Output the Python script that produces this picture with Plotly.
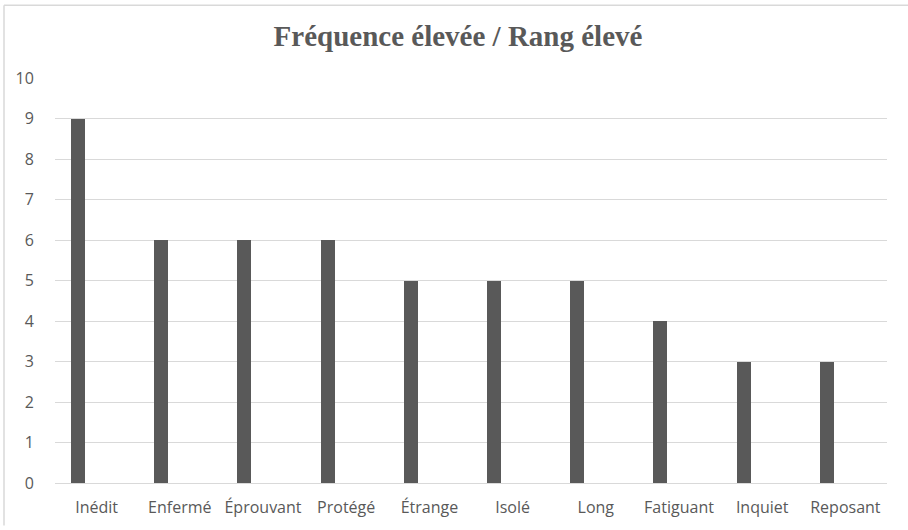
import plotly.graph_objects as go

categories = ["Inédit", "Enfermé", "Éprouvant", "Protégé", "Étrange", "Isolé", "Long", "Fatiguant", "Inquiet", "Reposant"]
values = [9, 6, 6, 6, 5, 5, 5, 4, 3, 3]
y_ticks = list(range(0, 11))

W, H = 908, 530
L, R, T, B = 55, 21, 78, 43
PW, PH = W - L - R, H - T - B

fig = go.Figure()
fig.add_trace(go.Bar(
    x=categories, y=values,
    marker=dict(color="#595959", line=dict(width=0)),
    width=0.168, offset=-0.308,
    showlegend=False,
))

bx = (4 - L) / PW
by = 1 + (T - 4.5) / PH
fig.update_layout(
    width=W, height=H,
    margin=dict(l=L, r=R, t=T, b=B),
    paper_bgcolor="white", plot_bgcolor="white",
    title=dict(text="<b>Fréquence élevée / Rang élevé</b>", x=458 / W, xref="container",
               y=1 - 36 / H, yref="container", yanchor="middle", xanchor="center",
               font=dict(family="Liberation Serif", size=29, color="#595959")),
    font=dict(family="Open Sans", size=16, color="#595959"),
    bargap=0,
    xaxis=dict(showgrid=False, showline=True, linecolor="#d9d9d9", linewidth=1,
               ticks="outside", ticklen=10, tickcolor="rgba(0,0,0,0)",
               tickfont=dict(size=16, color="#595959"), fixedrange=True),
    yaxis=dict(range=[0, 10], tickvals=y_ticks, showgrid=True, gridcolor="#d9d9d9", gridwidth=1,
               zeroline=False, ticks="outside", ticklen=17, tickcolor="rgba(0,0,0,0)",
               tickfont=dict(size=16, color="#595959"), fixedrange=True),
    shapes=[
        dict(type="line", xref="paper", yref="paper", x0=bx, x1=1 + R / PW, y0=by, y1=by,
             line=dict(color="#d9d9d9", width=1.5), layer="below"),
        dict(type="line", xref="paper", yref="paper", x0=bx, x1=bx, y0=-B / PH, y1=by,
             line=dict(color="#d9d9d9", width=1.5), layer="below"),
    ],
)

fig.write_html("out.html", config={"displayModeBar": False},
               post_script="document.body.style.margin='0';")
